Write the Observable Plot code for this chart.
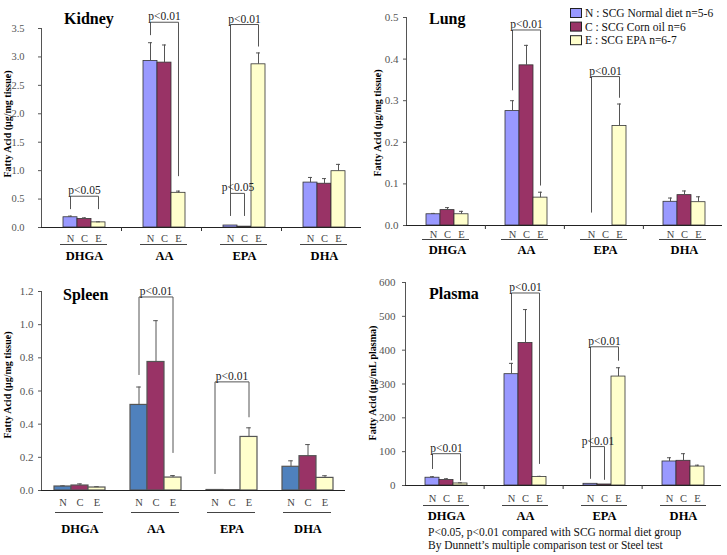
<!DOCTYPE html>
<html>
<head>
<meta charset="utf-8">
<script src="https://cdn.jsdelivr.net/npm/d3@7"></script>
<script src="https://cdn.jsdelivr.net/npm/@observablehq/plot@0.6"></script>
<style>
  body { margin: 0; background: #fff; }
  #chart { position: relative; width: 727px; height: 555px; overflow: hidden; background: #fff;
           font-family: "Liberation Serif", "Times New Roman", serif; }
  .panel { position: absolute; }
  .panel svg { overflow: visible; background: transparent; }
  #overlay { position: absolute; left: 0; top: 0; pointer-events: none; }
</style>
</head>
<body>
<div id="chart"></div>
<script>
// ---------- data ----------
const groups = ["DHGA", "AA", "EPA", "DHA"];
const diets = ["N", "C", "E"];
const dietColors = ["#9999ff", "#993366", "#ffffcc"];
const spleenColors = ["#4f81bd", "#993366", "#ffffcc"];
const legendLabels = ["N : SCG Normal diet n=5-6", "C : SCG Corn oil  n=6", "E : SCG EPA  n=6-7"];
const titles = ["Kidney", "Lung", "Spleen", "Plasma"];
const yLabels = ["Fatty Acid (μg/mg tissue)", "Fatty Acid (μg/mg tissue)", "Fatty Acid (μg/mg tissue)", "Fatty Acid (μg/mL plasma)"];
const footnote = ["P<0.05, p<0.01 compared with SCG normal diet group", "By Dunnett’s multiple comparison test or Steel test"];

// means and SD, order: DHGA N,C,E | AA N,C,E | EPA N,C,E | DHA N,C,E
const kidneyMean = [0.18, 0.15, 0.09, 2.93, 2.90, 0.61, 0.035, 0.015, 2.87, 0.79, 0.77, 0.99];
const kidneySD   = [0.02, 0.02, 0.01, 0.32, 0.31, 0.03, 0, 0, 0.20, 0.09, 0.09, 0.12];
const lungMean   = [0.027, 0.037, 0.027, 0.275, 0.385, 0.067, 0, 0, 0.239, 0.057, 0.073, 0.056];
const lungSD     = [0.002, 0.006, 0.007, 0.025, 0.048, 0.013, 0, 0, 0.053, 0.009, 0.010, 0.013];
const spleenMean = [0.024, 0.030, 0.018, 0.516, 0.775, 0.078, 0.003, 0.002, 0.323, 0.143, 0.207, 0.076];
const spleenSD   = [0.004, 0.010, 0.005, 0.108, 0.249, 0.012, 0, 0, 0.055, 0.036, 0.070, 0.013];
const plasmaMean = [23, 16, 6, 329, 421, 25, 5, 3, 322, 71, 73, 56];
const plasmaSD   = [3, 4, 2, 32, 99, 2, 0, 0, 26, 11, 21, 4];

const kidneyTicks = [0, 0.5, 1, 1.5, 2, 2.5, 3, 3.5];
const kidneyTickLabels = ["0.0", "0.5", "1.0", "1.5", "2.0", "2.5", "3.0", "3.5"];
const lungTicks = [0, 0.1, 0.2, 0.3, 0.4, 0.5];
const lungTickLabels = ["0.0", "0.1", "0.2", "0.3", "0.4", "0.5"];
const spleenTicks = [0, 0.2, 0.4, 0.6, 0.8, 1.0, 1.2];
const spleenTickLabels = ["0.0", "0.2", "0.4", "0.6", "0.8", "1.0", "1.2"];
const plasmaTicks = [0, 100, 200, 300, 400, 500, 600];
const plasmaTickLabels = ["0", "100", "200", "300", "400", "500", "600"];

// significance brackets (values in data units: bracket top, left leg end, right leg end)
const kidneySig = [
  {group: "DHGA", from: "N", to: "E", label: "p<0.05", top: 0.55, left: 0.33, right: 0.33},
  {group: "AA",   from: "N", to: "E", label: "p<0.01", top: 3.61, left: 3.39, right: 0.91},
  {group: "EPA",  from: "N", to: "E", label: "p<0.01", top: 3.57, left: 0.24, right: 3.19},
  {group: "EPA",  from: "N", to: "C", label: "p<0.05", top: 0.60, left: 0.21, right: 0.21}
];
const lungSig = [
  {group: "AA",  from: "N", to: "E", label: "p<0.01", top: 0.470, left: 0.326, right: 0.097},
  {group: "EPA", from: "N", to: "E", label: "p<0.01", top: 0.358, left: 0.032, right: 0.308}
];
const spleenSig = [
  {group: "AA",  from: "N", to: "E", label: "p<0.01", top: 1.167, left: 0.699, right: 0.229},
  {group: "EPA", from: "N", to: "E", label: "p<0.01", top: 0.655, left: 0.102, right: 0.444}
];
const plasmaSig = [
  {group: "DHGA", from: "N", to: "E", label: "p<0.01", top: 94, left: 50, right: 16},
  {group: "AA",   from: "N", to: "E", label: "p<0.01", top: 569, left: 371, right: 65},
  {group: "EPA",  from: "N", to: "E", label: "p<0.01", top: 410, left: 45, right: 370},
  {group: "EPA",  from: "N", to: "C", label: "p<0.01", top: 115, left: 21, right: 18}
];

// ---------- drawing ----------
const FONT = "'Liberation Serif', 'Times New Roman', serif";

function panel(cfg) {
  const rows = [];
  groups.forEach((g, gi) => diets.forEach((d, di) => {
    const k = gi * 3 + di;
    rows.push({group: g, diet: d, di, mean: cfg.mean[k], sd: cfg.sd[k], top: cfg.mean[k] + cfg.sd[k]});
  }));
  const pts = [];
  cfg.sig.forEach((s, i) => {
    pts.push({id: i, group: s.group, diet: s.from, v: s.left},
             {id: i, group: s.group, diet: s.from, v: s.top},
             {id: i, group: s.group, diet: s.to, v: s.top},
             {id: i, group: s.group, diet: s.to, v: s.right});
  });
  const groupW = (cfg.width - cfg.ml - cfg.mr) / groups.length;
  const step = groupW / (3 + 2 * cfg.pOuter);
  const errRows = rows.filter(d => d.sd > 0);
  const marks = [
    Plot.barY(rows, {fx: "group", x: "diet", y: "mean", fill: d => cfg.colors[d.di], stroke: cfg.barStroke, strokeWidth: cfg.barStrokeWidth}),
    Plot.ruleX(errRows, {fx: "group", x: "diet", y1: "mean", y2: "top", stroke: "#555", strokeWidth: 1}),
    Plot.tickY(errRows, {fx: "group", x: "diet", y: "top", stroke: "#555", strokeWidth: 1, insetLeft: step / 2 - 2.5, insetRight: step / 2 - 2.5}),
    Plot.ruleY([0], {stroke: "#222", strokeWidth: 1.2}),
    Plot.text(rows, {fx: "group", x: "diet", text: "diet", frameAnchor: "bottom", dy: cfg.nceDy, fill: "#444", fontSize: 10.5, lineAnchor: "middle"}),
    Plot.ruleY([0], {dy: cfg.ulDy, insetLeft: cfg.ulL, insetRight: cfg.ulR, stroke: "#444", strokeWidth: 1}),
    Plot.text(groups, {fx: d => d, x: () => "C", text: d => d, frameAnchor: "bottom", dy: cfg.glDy, fontWeight: "bold", fontSize: 12.5, fill: "#000", lineAnchor: "middle"}),
    Plot.line(pts, {fx: "group", x: "diet", y: "v", z: "id", stroke: "#555", strokeWidth: 1}),
    Plot.text(cfg.sig.filter(s => s.to === "E"), {fx: "group", x: () => "C", y: "top", text: "label", dy: -2, lineAnchor: "bottom", fontSize: 11.5, fill: "#222"}),
    Plot.text(cfg.sig.filter(s => s.to === "C"), {fx: "group", x: () => "N", y: "top", text: "label", dx: step / 2, dy: -2, lineAnchor: "bottom", fontSize: 11.5, fill: "#222"})
  ];
  if (cfg.boundaryTicks) {
    marks.push(Plot.ruleX(groups.slice(1), {fx: d => d, x: null, y1: 0, y2: 0, insetBottom: -4, dx: -groupW / 2, stroke: "#333"}));
  }
  return Plot.plot({
    width: cfg.width, height: cfg.height,
    marginTop: cfg.mt, marginBottom: cfg.mb, marginLeft: cfg.ml, marginRight: cfg.mr,
    style: {fontFamily: FONT, fontSize: cfg.tickFont + "px", color: "#555", background: "transparent", overflow: "visible"},
    fx: {domain: groups, padding: 0, axis: null},
    x: {domain: diets, paddingInner: 0, paddingOuter: cfg.pOuter, align: cfg.align, axis: null},
    y: {domain: [0, cfg.ticks[cfg.ticks.length - 1]], ticks: cfg.ticks, tickFormat: d => cfg.tickLabels[cfg.ticks.indexOf(d)],
        tickSize: 3, tickPadding: cfg.tickPadding, line: true, label: null},
    marks
  });
}

const chart = document.getElementById("chart");
function place(node, left, top) {
  const wrap = document.createElement("div");
  wrap.className = "panel";
  wrap.style.left = left + "px";
  wrap.style.top = top + "px";
  wrap.appendChild(node);
  chart.appendChild(wrap);
}

place(panel({mean: kidneyMean, sd: kidneySD, sig: kidneySig, ticks: kidneyTicks, tickLabels: kidneyTickLabels,
  width: 362, height: 270, ml: 41, mr: 1, mt: 28, mb: 43, pOuter: 1.167, align: 0.57, colors: dietColors,
  barStroke: "#333", barStrokeWidth: 0.8, tickPadding: 14, tickFont: 10.5, nceDy: 11, ulDy: 17, ulL: 19, ulR: 14, glDy: 28, boundaryTicks: true}), 0, 0);

place(panel({mean: lungMean, sd: lungSD, sig: lungSig, ticks: lungTicks, tickLabels: lungTickLabels,
  width: 367, height: 270, ml: 45, mr: 5, mt: 17, mb: 45, pOuter: 1.14, align: 0.55, colors: dietColors,
  barStroke: "#333", barStrokeWidth: 0.8, tickPadding: 5, tickFont: 11, nceDy: 9, ulDy: 14, ulL: 16, ulR: 16, glDy: 24, boundaryTicks: true}), 360, 0);

place(panel({mean: spleenMean, sd: spleenSD, sig: spleenSig, ticks: spleenTicks, tickLabels: spleenTickLabels,
  width: 360, height: 285, ml: 40, mr: 15, mt: 21, mb: 65, pOuter: 0.70, align: 0.5, colors: spleenColors,
  barStroke: "#555", barStrokeWidth: 1.2, tickPadding: 5, tickFont: 11, nceDy: 12, ulDy: 22, ulL: 14, ulR: 14, glDy: 38, boundaryTicks: false}), 0, 270);

place(panel({mean: plasmaMean, sd: plasmaSD, sig: plasmaSig, ticks: plasmaTicks, tickLabels: plasmaTickLabels,
  width: 367, height: 285, ml: 43, mr: 5, mt: 12, mb: 70, pOuter: 1.16, align: 0.55, colors: dietColors,
  barStroke: "#333", barStrokeWidth: 0.8, tickPadding: 7, tickFont: 11, nceDy: 13, ulDy: 20, ulL: 18, ulR: 15, glDy: 30, boundaryTicks: true}), 360, 270);

// ---------- overlay text: titles, y labels, legend, footnote ----------
const ov = d3.select(chart).append("svg").attr("id", "overlay").attr("width", 727).attr("height", 555)
  .style("font-family", FONT);
const titlePos = [[64, 24], [429, 24], [63, 300], [429, 299]];
titles.forEach((t, i) => ov.append("text").attr("x", titlePos[i][0]).attr("y", titlePos[i][1])
  .attr("font-size", 16).attr("font-weight", "bold").text(t));
const ylabPos = [[7, 124], [377, 123], [7, 385], [372, 383]];
yLabels.forEach((t, i) => ov.append("text")
  .attr("transform", `translate(${ylabPos[i][0]},${ylabPos[i][1]}) rotate(-90)`)
  .attr("text-anchor", "middle").attr("dominant-baseline", "central")
  .attr("font-size", 10).attr("font-weight", "bold").text(t));
legendLabels.forEach((t, i) => {
  const y = 8 + i * 13.6;
  ov.append("rect").attr("x", 570.5).attr("y", y + 0.5).attr("width", 11).attr("height", 9)
    .attr("fill", dietColors[i]).attr("stroke", "#222").attr("stroke-width", 1);
  ov.append("text").attr("x", 585).attr("y", y + 9).attr("font-size", 11.5).attr("fill", "#111").text(t);
});
footnote.forEach((t, i) => ov.append("text").attr("x", 428).attr("y", 536 + i * 12.5)
  .attr("font-size", 11.5).attr("fill", "#111").text(t));
</script>
</body>
</html>
